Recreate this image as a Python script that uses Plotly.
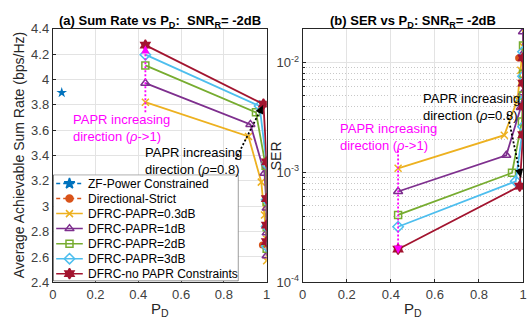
import plotly.graph_objects as go
import numpy as np

FONT = "Liberation Sans, Arial, Helvetica, sans-serif"

# ---------------- data ----------------
series_names = ["DFRC-PAPR=0.3dB", "DFRC-PAPR=1dB", "DFRC-PAPR=2dB",
                "DFRC-PAPR=3dB", "DFRC-no PAPR Constraints"]
series_colors = ["#EDB120", "#7E2F8E", "#77AC30", "#4DBEEE", "#A2142F"]
series_symbols = ["x-thin-open", "triangle-up-open", "square-open", "diamond-open", "hexagram"]
series_sizes = [7, 8, 7, 8, 8]

pd_papr03 = [0.433, 0.915, 0.975, 0.99, 1.0, 1.0]
pd_papr1 = [0.433, 0.924, 0.99, 1.0, 1.0, 1.0]
pd_papr2 = [0.433, 0.950, 0.995, 1.0, 1.0, 1.0]
pd_papr3 = [0.433, 0.967, 1.0, 1.0, 1.0, 1.0]
pd_nopapr = [0.433, 0.985, 1.0, 1.0, 1.0, 1.0]

rate_papr03 = [3.82, 3.55, 3.19, 2.93, 2.74, 2.57]
rate_papr1 = [3.97, 3.645, 3.26, 2.985, 2.79, 2.61]
rate_papr2 = [4.11, 3.74, 3.32, 3.035, 2.835, 2.665]
rate_papr3 = [4.195, 3.79, 3.33, 3.05, 2.84, 2.685]
rate_nopapr = [4.27, 3.805, 3.35, 3.06, 2.85, 2.72]

ser_papr03 = [1.09e-3, 2.18e-3, 4.6e-3, 8.5e-3, 1.4e-2, 2.3e-2]
ser_papr1 = [6.7e-4, 1.43e-3, 3.9e-3, 5.3e-3, 1.2e-2, 1.9e-2]
ser_papr2 = [4.1e-4, 9.9e-4, 2.9e-3, 5.0e-3, 7.9e-3, 1.43e-2]
ser_papr3 = [3.2e-4, 8.3e-4, 2.6e-3, 4.5e-3, 7.5e-3, 1.25e-2]
ser_nopapr = [2.0e-4, 7.5e-4, 2.2e-3, 4.0e-3, 6.5e-3, 1.1e-2]

zf_name = "ZF-Power Constrained"
zf_color = "#0072BD"
zf_pd = [0.042]
zf_rate = [3.895]
zf_ser = [5e-2]
dir_name = "Directional-Strict"
dir_color = "#D95319"
dir_pd = [0.98]
dir_rate = [2.695]
dir_ser = [1.1e-2]

pd_all = [pd_papr03, pd_papr1, pd_papr2, pd_papr3, pd_nopapr]
rate_all = [rate_papr03, rate_papr1, rate_papr2, rate_papr3, rate_nopapr]
ser_all = [ser_papr03, ser_papr1, ser_papr2, ser_papr3, ser_nopapr]

rate_ticks = [2.4, 2.6, 2.8, 3.0, 3.2, 3.4, 3.6, 3.8, 4.0, 4.2, 4.4]
rate_ticktext = ["2.4", "2.6", "2.8", "3", "3.2", "3.4", "3.6", "3.8", "4", "4.2", "4.4"]
pd_ticks = [0, 0.2, 0.4, 0.6, 0.8, 1.0]
pd_ticktext = ["0", "0.2", "0.4", "0.6", "0.8", "1"]
ser_ticks = [1e-4, 1e-3, 1e-2]
ser_ticktext = ["10<sup>-4</sup>", "10<sup>-3</sup>", "10<sup>-2</sup>"]

# annotation guide arrows
mag_left_x = [0.433, 0.433]
mag_left_y = [3.74, 4.25]
blk_left_x = [0.855, 0.982]
blk_left_y = [3.37, 3.795]
mag_right_x = [0.433, 0.433]
mag_right_y = [1.58e-3, 1.95e-4]
blk_right_x = [0.93, 0.99]
blk_right_y = [3.4e-3, 9.0e-4]

W, H = 528, 328
fig = go.Figure()

# ---------------- left panel ----------------
fig.add_trace(go.Scatter(x=zf_pd, y=zf_rate, mode="lines+markers", name=zf_name, showlegend=False,
                         line=dict(color=zf_color, width=1.5, dash="4px,3px"),
                         marker=dict(symbol="star", size=8, color=zf_color),
                         xaxis="x", yaxis="y"))
fig.add_trace(go.Scatter(x=dir_pd, y=dir_rate, mode="lines+markers", name=dir_name, showlegend=False,
                         line=dict(color=dir_color, width=1.5, dash="4px,3px"),
                         marker=dict(symbol="circle", size=7, color=dir_color),
                         xaxis="x", yaxis="y"))
for nm, c, s, sz, xs, ys in zip(series_names, series_colors, series_symbols, series_sizes, pd_all, rate_all):
    fig.add_trace(go.Scatter(x=xs, y=ys, mode="lines+markers", name=nm, showlegend=False,
                             line=dict(color=c, width=1.8),
                             marker=dict(symbol=s, size=sz, color=c, line=dict(color=c, width=1.5)),
                             xaxis="x", yaxis="y"))

# ---------------- right panel ----------------
fig.add_trace(go.Scatter(x=zf_pd, y=zf_ser, mode="markers", name=zf_name, showlegend=False,
                         marker=dict(symbol="star", size=8, color=zf_color),
                         xaxis="x2", yaxis="y2"))
fig.add_trace(go.Scatter(x=dir_pd, y=dir_ser, mode="markers", name=dir_name, showlegend=False,
                         marker=dict(symbol="circle", size=7, color=dir_color),
                         xaxis="x2", yaxis="y2"))
for nm, c, s, sz, xs, ys in zip(series_names, series_colors, series_symbols, series_sizes, pd_all, ser_all):
    fig.add_trace(go.Scatter(x=xs, y=ys, mode="lines+markers", name=nm, showlegend=False,
                             line=dict(color=c, width=1.8),
                             marker=dict(symbol=s, size=sz, color=c, line=dict(color=c, width=1.5)),
                             xaxis="x2", yaxis="y2"))

# dotted guide lines
for xs, ys, col, xa, ya in [(mag_left_x, mag_left_y, "#FF00FF", "x", "y"),
                            (blk_left_x, blk_left_y, "#000000", "x", "y"),
                            (mag_right_x, mag_right_y, "#FF00FF", "x2", "y2"),
                            (blk_right_x, blk_right_y, "#000000", "x2", "y2")]:
    fig.add_trace(go.Scatter(x=xs, y=ys, mode="lines", showlegend=False, hoverinfo="skip",
                             line=dict(color=col, width=1.8, dash="2px,2px"), xaxis=xa, yaxis=ya))

# ---------------- legend (MATLAB-style box, drawn on an auxiliary axis) ----------------
leg_names = [zf_name, dir_name] + series_names
leg_colors = [zf_color, dir_color] + series_colors
leg_symbols = ["star", "circle"] + series_symbols
leg_sizes = [8, 7] + series_sizes
leg_dash = ["4px,3px", "4px,3px"] + ["solid"] * 5
LEG_W, LEG_H, ROW = 188.0, 111.6, 15.75
for i, (nm, c, s, sz, d) in enumerate(zip(leg_names, leg_colors, leg_symbols, leg_sizes, leg_dash)):
    ry = 9.3 + ROW * i
    fig.add_trace(go.Scatter(x=[3, 30], y=[ry, ry], mode="lines", showlegend=False, hoverinfo="skip",
                             line=dict(color=c, width=1.5, dash=d), xaxis="x3", yaxis="y3"))
    fig.add_trace(go.Scatter(x=[16.5], y=[ry], mode="markers", showlegend=False, hoverinfo="skip",
                             marker=dict(symbol=s, size=sz, color=c, line=dict(color=c, width=1.5)),
                             xaxis="x3", yaxis="y3"))

x1d = [49.5 / W, 266.7 / W]
x2d = [303.3 / W, 527.0 / W]
yd = [1 - 288.5 / H, 1 - 22.7 / H]
legx = [50 / W, 238 / W]
legy = [1 - 287.3 / H, 1 - 175.7 / H]

axcommon = dict(showline=True, linecolor="#262626", linewidth=1, mirror=True,
                gridcolor="#E3E3E3", gridwidth=1, zeroline=False,
                ticks="inside", ticklen=3, tickcolor="#262626",
                tickfont=dict(family=FONT, size=13, color="#404040"))
auxax = dict(visible=False, showgrid=False, zeroline=False, fixedrange=True)

fig.update_layout(
    width=W, height=H, margin=dict(l=0, r=0, t=0, b=0),
    paper_bgcolor="white", plot_bgcolor="white",
    font=dict(family=FONT, size=13, color="#262626"),
    showlegend=False,
    xaxis=dict(domain=x1d, range=[0, 1], tickvals=pd_ticks, ticktext=pd_ticktext,
               anchor="y", **axcommon),
    yaxis=dict(domain=yd, range=[2.4, 4.4], tickvals=rate_ticks, ticktext=rate_ticktext,
               anchor="x", **axcommon),
    xaxis2=dict(domain=x2d, range=[0, 1], tickvals=pd_ticks, ticktext=pd_ticktext,
                anchor="y2", **axcommon),
    yaxis2=dict(domain=yd, type="log", range=[-4, np.log10(0.0203)], tickvals=ser_ticks,
                ticktext=ser_ticktext, anchor="x2",
                minor=dict(dtick="D1", showgrid=True, gridcolor="#C8C8C8", griddash="1px,2px",
                           ticks="inside", ticklen=2, tickcolor="#262626"),
                **axcommon),
    xaxis3=dict(domain=legx, range=[0, LEG_W], anchor="y3", **auxax),
    yaxis3=dict(domain=legy, range=[LEG_H, 0], anchor="x3", **auxax),
)

fig.add_shape(type="rect", xref="x3", yref="y3", x0=0, x1=LEG_W, y0=0, y1=LEG_H,
              layer="between", fillcolor="white", line=dict(color="#262626", width=1))

ann = []
for i, nm in enumerate(leg_names):
    ann.append(dict(text=nm, x=33, y=9.3 + ROW * i, xref="x3", yref="y3", xanchor="left",
                    yanchor="middle", showarrow=False, font=dict(family=FONT, size=12, color="black")))
# titles
ann.append(dict(text="<b>(a) Sum Rate vs P<sub>D</sub>:  SNR<sub>R</sub>= -2dB</b>",
                x=(x1d[0] + x1d[1]) / 2, y=1 - 4 / H, xref="paper", yref="paper",
                xanchor="center", yanchor="top", showarrow=False,
                font=dict(family=FONT, size=13, color="black")))
ann.append(dict(text="<b>(b) SER vs P<sub>D</sub>: SNR<sub>R</sub>= -2dB</b>",
                x=(x2d[0] + x2d[1]) / 2, y=1 - 4 / H, xref="paper", yref="paper",
                xanchor="center", yanchor="top", showarrow=False,
                font=dict(family=FONT, size=13, color="black")))
# axis labels
ann.append(dict(text="Average Achievable Sum Rate (bps/Hz)", x=16 / W, y=(yd[0] + yd[1]) / 2,
                xref="paper", yref="paper", textangle=-90, showarrow=False,
                xanchor="center", yanchor="middle", font=dict(family=FONT, size=14, color="#262626")))
ann.append(dict(text="SER", x=277 / W, y=(yd[0] + yd[1]) / 2,
                xref="paper", yref="paper", textangle=-90, showarrow=False,
                xanchor="center", yanchor="middle", font=dict(family=FONT, size=14, color="#262626")))
for xc in [(x1d[0] + x1d[1]) / 2, (x2d[0] + x2d[1]) / 2]:
    ann.append(dict(text="P<sub>D</sub>", x=xc, y=1 - 305 / H, xref="paper", yref="paper",
                    xanchor="center", yanchor="top", showarrow=False,
                    font=dict(family=FONT, size=15, color="#262626")))
# text annotations
ann.append(dict(text="PAPR increasing<br>direction (<i>ρ</i>->1)", x=68 / W, y=1 - 108 / H,
                xref="paper", yref="paper", xanchor="left", yanchor="top", align="left",
                showarrow=False, font=dict(family=FONT, size=13, color="#FF00FF")))
ann.append(dict(text="PAPR increasing<br>direction (<i>ρ</i>=0.8)", x=141 / W, y=1 - 143 / H,
                xref="paper", yref="paper", xanchor="left", yanchor="top", align="left",
                showarrow=False, font=dict(family=FONT, size=13, color="black")))
ann.append(dict(text="PAPR increasing<br>direction (<i>ρ</i>=0.8)", x=423 / W, y=1 - 86 / H,
                xref="paper", yref="paper", xanchor="left", yanchor="top", align="left",
                showarrow=False, font=dict(family=FONT, size=13, color="black")))
ann.append(dict(text="PAPR increasing<br>direction (<i>ρ</i>->1)", x=339 / W, y=1 - 117 / H,
                xref="paper", yref="paper", xanchor="left", yanchor="top", align="left",
                showarrow=False, font=dict(family=FONT, size=13, color="#FF00FF")))
# arrowheads
ann.append(dict(x=mag_left_x[1], y=mag_left_y[1] + 0.02, xref="x", yref="y", ax=0, ay=9, text="",
                showarrow=True, arrowhead=2, arrowsize=1.1, arrowwidth=1.5, arrowcolor="#FF00FF"))
ann.append(dict(x=blk_left_x[1], y=blk_left_y[1], xref="x", yref="y", ax=-3.8, ay=8.1, text="",
                showarrow=True, arrowhead=2, arrowsize=1.1, arrowwidth=1.5, arrowcolor="black"))
ann.append(dict(x=mag_right_x[1], y=np.log10(mag_right_y[1]) - 0.03, xref="x2", yref="y2", ax=0, ay=-9,
                text="", showarrow=True, arrowhead=2, arrowsize=1.1, arrowwidth=1.5, arrowcolor="#FF00FF"))
ann.append(dict(x=blk_right_x[1], y=np.log10(blk_right_y[1]), xref="x2", yref="y2", ax=-1.8, ay=-8.8,
                text="", showarrow=True, arrowhead=2, arrowsize=1.1, arrowwidth=1.5, arrowcolor="black"))
fig.update_layout(annotations=ann)

fig.write_html("out.html")
